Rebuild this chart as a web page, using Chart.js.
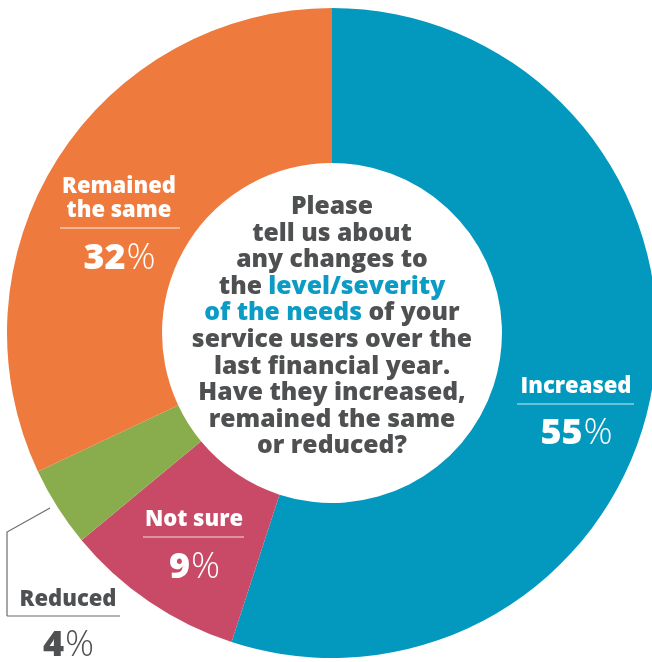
<!DOCTYPE html>
<html>
<head>
<meta charset="utf-8">
<script src="https://cdn.jsdelivr.net/npm/chart.js@4"></script>
<style>
  html, body { margin: 0; padding: 0; background: #fff; overflow: hidden; width: 652px; height: 662px; }
  #wrap { position: absolute; left: 0; top: 0; }
</style>
</head>
<body>
<div id="wrap"><canvas id="needsChart" width="664" height="666"></canvas></div>
<script>
// Answers, clockwise from 12 o'clock
const categories = ['Increased', 'Not sure', 'Reduced', 'Remained the same'];
const shares = [55, 9, 4, 32];
const sliceColors = ['#0399bf', '#c84a66', '#89ad4c', '#ef7a3d'];

// Question in the hole; each line is a list of [text, isHighlight]
const questionLines = [
  [['Please', false]],
  [['tell us about', false]],
  [['any changes to', false]],
  [['the ', false], ['level/severity', true]],
  [['of the needs', true], [' of your', false]],
  [['service users over the', false]],
  [['last financial year.', false]],
  [['Have they increased,', false]],
  [['remained the same', false]],
  [['or reduced?', false]]
];

const GREY = '#4e5051';
const HIGHLIGHT = '#0b9bc4';
const FONT = '"Open Sans", Lato, sans-serif';

// label blocks: lines of the name, rule, percent, colour
const labelSpots = [
  { cx: 576, names: ['Increased'], nameY: [387], rule: [517, 634, 404], pctY: 434, color: '#fff', ruleColor: 'rgba(255,255,255,0.8)' },
  { cx: 194, names: ['Not sure'], nameY: [520], rule: [143, 244, 537], pctY: 568, color: '#fff', ruleColor: 'rgba(255,255,255,0.8)' },
  { cx: 68, names: ['Reduced'], nameY: [600], rule: [7, 120, 616], pctY: 646, color: GREY, ruleColor: '#6a6c6d' },
  { cx: 119, names: ['Remained', 'the same'], nameY: [187, 211], rule: [60, 180, 228], pctY: 259, color: '#fff', ruleColor: 'rgba(255,255,255,0.9)' }
];

// shrink/stretch font size so a line hits a target width
function fitFont(ctx, text, weight, target) {
  ctx.font = weight + ' 20px ' + FONT;
  const w = ctx.measureText(text).width;
  return 20 * target / w;
}

const labelPlugin = {
  id: 'labelPlugin',
  afterDraw(chart) {
    const ctx = chart.ctx;
    const meta = chart.getDatasetMeta(0);
    const arc0 = meta.data[0];
    const cx = arc0.x, cy = arc0.y;
    ctx.save();
    ctx.textBaseline = 'middle';

    // centre question, sized so the widest line spans ~280px
    const qSize = Math.min(25, fitFont(ctx, 'service users over the', '800', 280));
    ctx.font = '800 ' + qSize.toFixed(1) + 'px ' + FONT;
    const lineH = 26.6;
    const top = cy - 126;
    questionLines.forEach((parts, i) => {
      const total = parts.reduce((s, p) => s + ctx.measureText(p[0]).width, 0);
      let x = cx - total / 2;
      const y = top + i * lineH;
      ctx.textAlign = 'left';
      parts.forEach(p => {
        ctx.fillStyle = p[1] ? HIGHLIGHT : GREY;
        ctx.fillText(p[0], x, y);
        x += ctx.measureText(p[0]).width;
      });
    });

    // slice labels
    const nSize = Math.min(22, fitFont(ctx, 'Increased', '800', 113));
    labelSpots.forEach((s, i) => {
      ctx.fillStyle = s.color;
      ctx.textAlign = 'center';
      ctx.font = '800 ' + nSize.toFixed(1) + 'px ' + FONT;
      s.names.forEach((n, j) => ctx.fillText(n, s.cx, s.nameY[j]));

      ctx.strokeStyle = s.ruleColor;
      ctx.lineWidth = 1.2;
      ctx.beginPath();
      ctx.moveTo(s.rule[0], s.rule[2]);
      ctx.lineTo(s.rule[1], s.rule[2]);
      ctx.stroke();

      // number bold, % sign thin
      const num = String(shares[i]);
      ctx.font = '800 36px ' + FONT;
      const wNum = ctx.measureText(num).width;
      ctx.font = '300 36px ' + FONT;
      const wPct = ctx.measureText('%').width;
      let x = s.cx - (wNum + wPct) / 2;
      ctx.textAlign = 'left';
      ctx.font = '800 36px ' + FONT;
      ctx.fillText(num, x, s.pctY);
      ctx.font = '300 36px ' + FONT;
      ctx.fillText('%', x + wNum + 1, s.pctY);
    });

    // leader line for the small "Reduced" slice
    ctx.strokeStyle = '#6a6c6d';
    ctx.lineWidth = 1.2;
    ctx.beginPath();
    ctx.moveTo(50, 508);
    ctx.lineTo(7, 532);
    ctx.lineTo(7, 616);
    ctx.stroke();
    ctx.restore();
  }
};

new Chart(document.getElementById('needsChart'), {
  type: 'doughnut',
  data: {
    labels: categories,
    datasets: [{
      data: shares,
      backgroundColor: sliceColors,
      borderWidth: 0
    }]
  },
  options: {
    responsive: false,
    animation: false,
    cutout: '52.3%',
    layout: { padding: { left: 7, right: 7, top: 8, bottom: 8 } },
    plugins: {
      legend: { display: false },
      tooltip: { enabled: false }
    }
  },
  plugins: [labelPlugin]
});
</script>
</body>
</html>
